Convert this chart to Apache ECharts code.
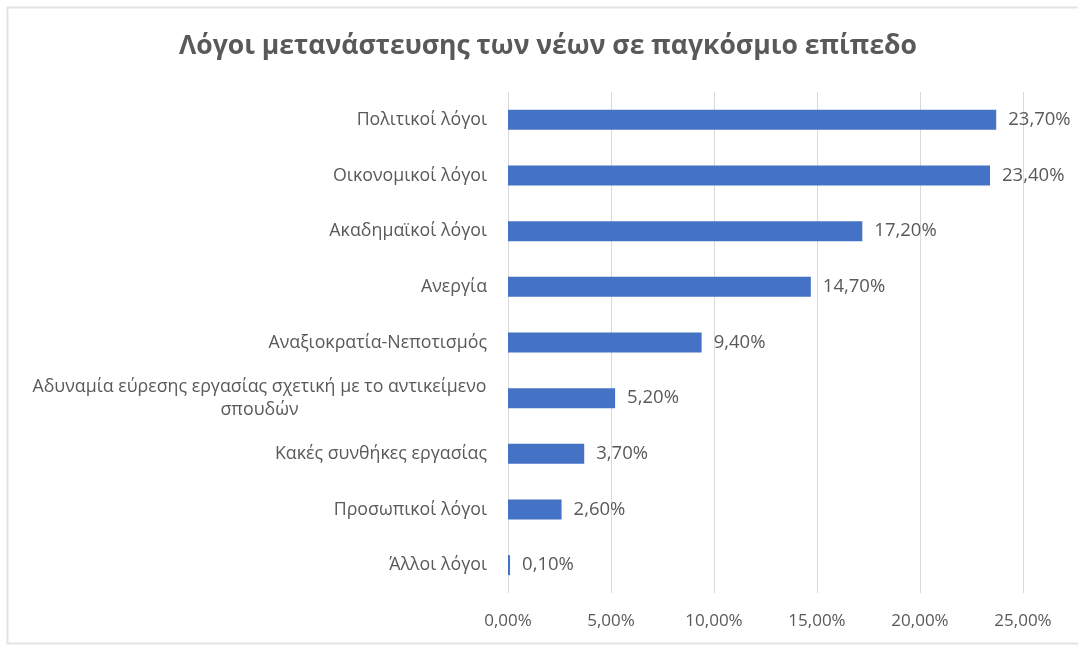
<!DOCTYPE html>
<html>
<head>
<meta charset="utf-8">
<script src="https://cdn.jsdelivr.net/npm/echarts@6/dist/echarts.min.js"></script>
<style>
  html, body { margin: 0; padding: 0; background: #fff; }
  #chart { width: 1078px; height: 646px; }
</style>
</head>
<body>
<div id="chart"></div>
<script>
// Reasons for youth migration worldwide (share of respondents, %)
const categories = [
  'Πολιτικοί λόγοι',
  'Οικονομικοί λόγοι',
  'Ακαδημαϊκοί λόγοι',
  'Ανεργία',
  'Αναξιοκρατία-Νεποτισμός',
  'Αδυναμία εύρεσης εργασίας σχετική με το αντικείμενο σπουδών',
  'Κακές συνθήκες εργασίας',
  'Προσωπικοί λόγοι',
  'Άλλοι λόγοι'
];
const values = [23.7, 23.4, 17.2, 14.7, 9.4, 5.2, 3.7, 2.6, 0.1];
const xTicks = [0, 5, 10, 15, 20, 25];

const pct = v => v.toFixed(2).replace('.', ',') + '%';
const labelFont = '"Open Sans", "Noto Sans", sans-serif';
const textColor = '#595959';
const catSize = 17.8;

// width of a string in the category label font, used to centre the wrapped second line
const measureCtx = document.createElement('canvas').getContext('2d');
measureCtx.font = catSize + 'px ' + labelFont;
const textWidth = s => Math.ceil(measureCtx.measureText(s).width);

function wrapLabel(v) {
  if (v.length > 40) {
    const cut = v.lastIndexOf(' ');
    const first = v.slice(0, cut);
    return { text: '{w|' + first + '}\n{w|' + v.slice(cut + 1) + '}', width: textWidth(first) };
  }
  return { text: v, width: 0 };
}
const longest = wrapLabel(categories[5]);

const chart = echarts.init(document.getElementById('chart'));
chart.setOption({
  animation: false,
  backgroundColor: '#ffffff',
  graphic: [{
    type: 'rect',
    shape: { x: 7.5, y: 7.5, width: 1100, height: 636 },
    style: { fill: 'none', stroke: '#e3e3e3', lineWidth: 2 },
    silent: true
  }],
  title: {
    text: 'Λόγοι μετανάστευσης των νέων σε παγκόσμιο επίπεδο',
    left: 543,
    textAlign: 'center',
    top: 28,
    textStyle: {
      fontFamily: labelFont,
      fontSize: 26.5,
      fontWeight: 'bold',
      color: textColor
    }
  },
  grid: { left: 508, right: 55, top: 92, bottom: 53 },
  xAxis: {
    type: 'value',
    min: xTicks[0],
    max: xTicks[xTicks.length - 1],
    interval: 5,
    axisLine: { show: false },
    axisTick: { show: false },
    splitLine: { lineStyle: { color: '#d9d9d9', width: 1 } },
    axisLabel: {
      formatter: pct,
      margin: 20,
      fontFamily: labelFont,
      fontSize: 17,
      color: textColor
    }
  },
  yAxis: {
    type: 'category',
    inverse: true,
    data: categories,
    axisLine: { show: false },
    axisTick: { show: false },
    axisLabel: {
      margin: 21,
      fontFamily: labelFont,
      fontSize: catSize,
      color: textColor,
      formatter: v => wrapLabel(v).text,
      rich: {
        w: {
          width: longest.width,
          align: 'center',
          fontFamily: labelFont,
          fontSize: catSize,
          color: textColor,
          lineHeight: 23
        }
      }
    }
  },
  series: [{
    type: 'bar',
    data: values,
    barWidth: 20,
    itemStyle: { color: '#4472C4' },
    label: {
      show: true,
      position: 'right',
      distance: 12,
      formatter: p => pct(p.value),
      fontFamily: labelFont,
      fontSize: 18.5,
      color: textColor
    }
  }]
});
</script>
</body>
</html>
